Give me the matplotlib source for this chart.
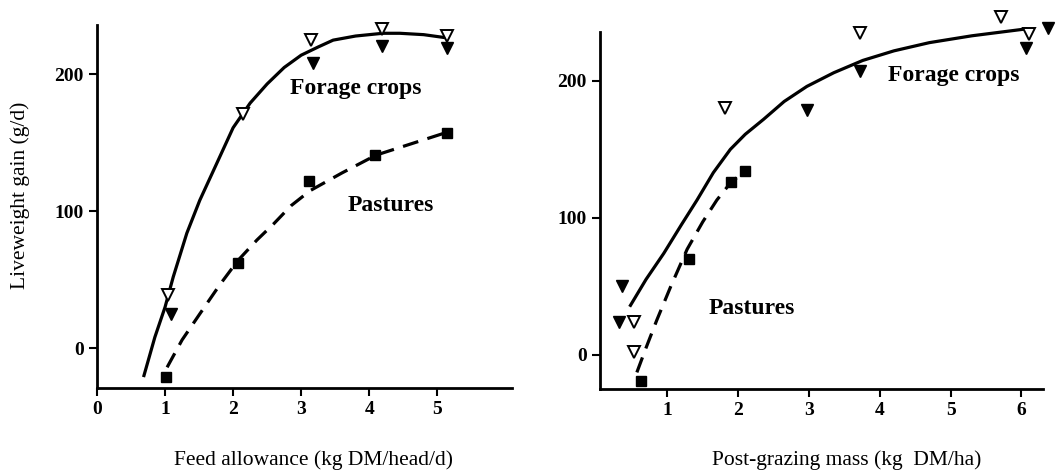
import matplotlib
matplotlib.use('Agg')
import matplotlib.pyplot as plt

plt.rcParams['font.family'] = ['Liberation Serif', 'DejaVu Serif']

# left panel: feed allowance
fa_open_x = [1.04, 2.15, 3.15, 4.19, 5.15]
fa_open_y = [39, 171, 225, 233, 228]
fa_fill_x = [1.09, 3.18, 4.19, 5.15]
fa_fill_y = [25, 208, 221, 219]
fa_sq_x = [1.01, 2.07, 3.12, 4.09, 5.15]
fa_sq_y = [-21, 62, 122, 141, 157]
fa_crop_x = [0.69, 0.85, 1.0, 1.12, 1.32, 1.51, 1.76, 2.0, 2.25, 2.5, 2.75,
             3.0, 3.25, 3.47, 3.8, 4.2, 4.45, 4.8, 5.09]
fa_crop_y = [-20, 8, 30, 52, 84, 108, 135, 161, 179, 193, 205,
             214, 220, 225, 228, 230, 230, 229, 227]
fa_past_x = [1.03, 1.25, 1.51, 1.8, 2.07, 2.35, 2.6, 2.85, 3.13, 3.6, 4.1, 4.6, 5.1]
fa_past_y = [-14, 6, 25, 46, 64, 79, 91, 104, 115, 128, 141, 149, 157]

# right panel: post-grazing mass
pg_open_x = [0.53, 0.53, 1.81, 3.72, 5.71, 6.1]
pg_open_y = [24, 2, 180, 235, 247, 234]
pg_fill_x = [0.36, 0.32, 2.97, 3.72, 6.07, 6.37]
pg_fill_y = [50, 24, 179, 207, 224, 239]
pg_sq_x = [0.63, 1.3, 1.9, 2.1]
pg_sq_y = [-19, 70, 126, 134]
pg_crop_x = [0.48, 0.7, 0.95, 1.2, 1.42, 1.65, 1.89, 2.1, 2.36, 2.65, 2.97,
             3.35, 3.76, 4.2, 4.7, 5.3, 6.06]
pg_crop_y = [36, 55, 74, 95, 113, 133, 150, 161, 172, 185, 196,
             206, 215, 222, 228, 233, 238]
pg_past_x = [0.57, 0.7, 0.85, 1.05, 1.28, 1.5, 1.7, 1.9, 2.1]
pg_past_y = [-13, 5, 25, 50, 77, 97, 113, 126, 134]

fig = plt.figure(figsize=(10.59, 4.73), dpi=100)
ax1 = fig.add_axes([0.0916, 0.180, 0.392, 0.767])
ax2 = fig.add_axes([0.5666, 0.178, 0.418, 0.755])


def style(ax):
    for s in ['top', 'right']:
        ax.spines[s].set_visible(False)
    for s in ['left', 'bottom']:
        ax.spines[s].set_linewidth(2)
    ax.tick_params(width=1.5, length=6, labelsize=14)
    for lab in ax.get_xticklabels() + ax.get_yticklabels():
        lab.set_fontweight('bold')


def draw(ax, cx, cy, px, py, ox, oy, fx, fy, sx, sy):
    ax.plot(cx, cy, color='black', lw=2.3, clip_on=False)
    ax.plot(px, py, color='black', lw=2.3, dashes=(5, 3), clip_on=False)
    ax.plot(ox, oy, 'v', ms=8, mfc='white', mec='black', mew=1.4, ls='none', clip_on=False, zorder=5)
    ax.plot(fx, fy, 'v', ms=8, color='black', ls='none', clip_on=False, zorder=5)
    ax.plot(sx, sy, 's', ms=7, color='black', ls='none', clip_on=False, zorder=5)


draw(ax1, fa_crop_x, fa_crop_y, fa_past_x, fa_past_y, fa_open_x, fa_open_y,
     fa_fill_x, fa_fill_y, fa_sq_x, fa_sq_y)
ax1.set_xlim(0, 6.1)
ax1.set_ylim(-29, 236)
ax1.set_xticks([0, 1, 2, 3, 4, 5])
ax1.set_yticks([0, 100, 200])
style(ax1)
ax1.text(2.84, 190, 'Forage crops', fontsize=17, fontweight='bold', va='center')
ax1.text(3.68, 104, 'Pastures', fontsize=17, fontweight='bold', va='center')

draw(ax2, pg_crop_x, pg_crop_y, pg_past_x, pg_past_y, pg_open_x, pg_open_y,
     pg_fill_x, pg_fill_y, pg_sq_x, pg_sq_y)
ax2.set_xlim(0.05, 6.3)
ax2.set_ylim(-25, 236)
ax2.set_xticks([1, 2, 3, 4, 5, 6])
ax2.set_yticks([0, 100, 200])
style(ax2)
ax2.text(4.11, 204, 'Forage crops', fontsize=17, fontweight='bold', va='center')
ax2.text(1.58, 34, 'Pastures', fontsize=17, fontweight='bold', va='center')

# axis titles placed as figure text
fig.text(20 / 1059, 1 - 195 / 473, 'Liveweight gain (g/d)', fontsize=15.5,
         rotation=90, ha='center', va='center')
fig.text(314 / 1059, 1 - 460 / 473, 'Feed allowance (kg DM/head/d)', fontsize=15.5,
         ha='center', va='center')
fig.text(847 / 1059, 1 - 460 / 473, 'Post-grazing mass (kg  DM/ha)', fontsize=15.5,
         ha='center', va='center')

fig.savefig('out.png', dpi=100)
